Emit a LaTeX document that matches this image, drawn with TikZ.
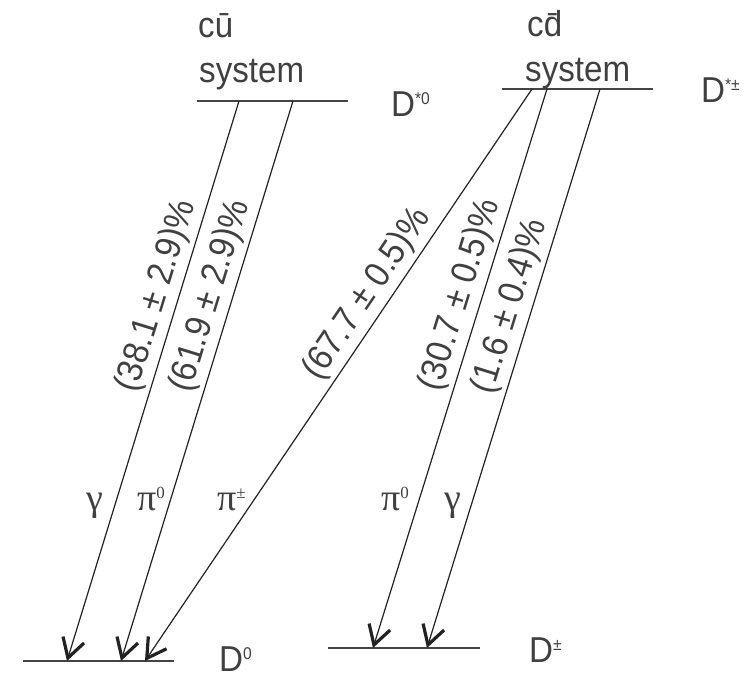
\documentclass[tikz,border=0pt]{standalone}
\usepackage{fontspec}
\setmainfont[FakeStretch=0.92]{Liberation Sans}
\newfontfamily\grk{Liberation Serif}
\usetikzlibrary{arrows.meta}
\definecolor{txt}{HTML}{404040}
\definecolor{lnc}{HTML}{222222}
\definecolor{lvl}{HTML}{444444}
\newcommand\supx[1]{\raisebox{12pt}{\fontsize{17}{17}\selectfont #1}}
\begin{document}
\begin{tikzpicture}[x=1pt,y=-1pt,
  every node/.style={inner sep=0pt, text=txt, font=\fontsize{36}{40}\selectfont},
  level/.style={draw=lvl, line width=2pt},
  trans/.style={draw=lnc, line width=1.2pt, -{Straight Barb[length=19pt,width=22pt,line width=3.2pt]}},
  rate/.style={sloped, above=4pt, pos=#1},
  lab/.style={anchor=base west},
  grkl/.style={anchor=base west, font=\fontsize{38}{40}\selectfont\grk}
]
\useasboundingbox (0,0) rectangle (753,679);
% level end points
\coordinate (LtL) at (197,101); \coordinate (LtR) at (348,101);
\coordinate (RtL) at (502,89);  \coordinate (RtR) at (653,89);
\coordinate (LbL) at (23,661);  \coordinate (LbR) at (174,661);
\coordinate (RbL) at (328,648); \coordinate (RbR) at (480,648);
\draw[level] (LtL) -- (LtR);
\draw[level] (RtL) -- (RtR);
\draw[level] (LbL) -- (LbR);
\draw[level] (RbL) -- (RbR);
% transition end points
\coordinate (a1s) at (239,101); \coordinate (a1e) at (67,661);
\coordinate (a2s) at (293,101); \coordinate (a2e) at (121,661);
\coordinate (b1s) at (532,89);  \coordinate (b1e) at (145,661);
\coordinate (b2s) at (547,89);  \coordinate (b2e) at (373,648);
\coordinate (b3s) at (600,89);  \coordinate (b3e) at (427,648);
\draw[trans] (a1s) -- node[rate=0.36] (r1) {(38.1 ± 2.9)\%} (a1e);
\draw[trans] (a2s) -- node[rate=0.36] (r2) {(61.9 ± 2.9)\%} (a2e);
\draw[trans] (b1s) -- node[rate=0.38] (r3) {(67.7 ± 0.5)\%} (b1e);
\draw[trans] (b2s) -- node[rate=0.38] (r4) {(30.7 ± 0.5)\%} (b2e);
\draw[trans] (b3s) -- node[rate=0.40] (r5) {(1.6 ± 0.4)\%} (b3e);
% system titles
\node[lab] (cu) at (198,38) {cū};
\node[lab] (sysL) at (199,83) {system};
\node[lab] (cd) at (527,37) {cd̄};
\node[lab] (sysR) at (525,82) {system};
% state labels
\node[lab] (Dst0) at (391,117) {D\supx{*0}};
\node[lab] (Dstpm) at (701,103) {D\supx{*±}};
\node[lab] (D0) at (219,671) {D\supx{0}};
\node[lab] (Dpm) at (529,662) {D\supx{±}};
% particle labels
\node[grkl] (g1) at (86,510) {γ};
\node[grkl] (p1) at (137,510) {π\supx{0}};
\node[grkl] (p2) at (217,510) {π\supx{±}};
\node[grkl] (p3) at (381,510) {π\supx{0}};
\node[grkl] (g2) at (444,510) {γ};
\end{tikzpicture}
\end{document}
